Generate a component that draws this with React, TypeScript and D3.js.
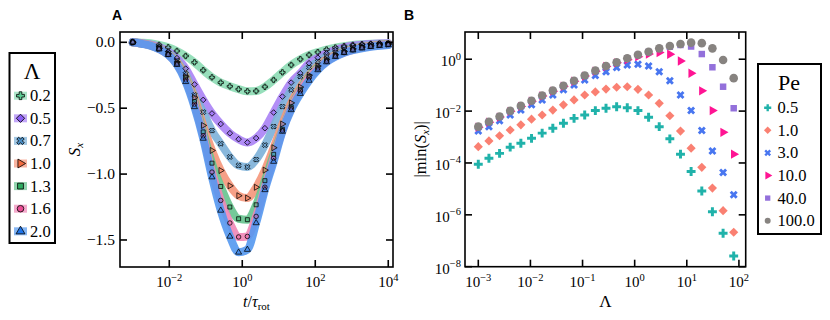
import * as d3 from 'd3';

// ---- panel A : S_x(t) for several Lambda ----
// log10(t / tau_rot) of the sampled points
const tLog = [-3, -2.76, -2.52, -2.28, -2.03, -1.79, -1.55, -1.31, -1.07, -0.83, -0.59, -0.34, -0.1, 0.14, 0.38,
  0.62, 0.86, 1.1, 1.34, 1.59, 1.83, 2.07, 2.31, 2.55, 2.79, 3.03, 3.28, 3.52, 3.76, 4];
// markers are not drawn on these sample indices (too crowded near zero)
const hiddenMarks = [1, 2];

const sx02 = [0, -0.003, -0.008, -0.02, -0.038, -0.066, -0.104, -0.152, -0.212, -0.266, -0.306, -0.334, -0.356, -0.372, -0.37,
  -0.338, -0.286, -0.228, -0.172, -0.128, -0.096, -0.075, -0.055, -0.04, -0.029, -0.02, -0.015, -0.012, -0.01, -0.009];
const sx05 = [0, -0.006, -0.016, -0.035, -0.07, -0.12, -0.2, -0.32, -0.437, -0.54, -0.62, -0.69, -0.735, -0.76, -0.727,
  -0.652, -0.533, -0.412, -0.306, -0.235, -0.159, -0.117, -0.083, -0.058, -0.038, -0.026, -0.018, -0.013, -0.01, -0.008];
const sx07 = [0, -0.008, -0.02, -0.042, -0.08, -0.14, -0.24, -0.4, -0.53, -0.67, -0.77, -0.87, -0.935, -0.947, -0.89,
  -0.78, -0.639, -0.488, -0.361, -0.26, -0.19, -0.147, -0.104, -0.079, -0.055, -0.04, -0.028, -0.02, -0.015, -0.011];
const sx10 = [0, -0.009, -0.022, -0.046, -0.088, -0.15, -0.26, -0.42, -0.631, -0.821, -0.973, -1.089, -1.164, -1.182, -1.1,
  -0.97, -0.8, -0.62, -0.46, -0.34, -0.25, -0.18, -0.13, -0.095, -0.07, -0.05, -0.036, -0.026, -0.019, -0.014];
const sx13 = [0, -0.01, -0.023, -0.048, -0.09, -0.16, -0.27, -0.45, -0.68, -0.917, -1.094, -1.25, -1.339, -1.346, -1.233,
  -1.05, -0.85, -0.66, -0.49, -0.36, -0.26, -0.19, -0.14, -0.1, -0.074, -0.054, -0.039, -0.029, -0.021, -0.015];
const sx16 = [0, -0.01, -0.024, -0.05, -0.093, -0.165, -0.285, -0.47, -0.71, -0.985, -1.2, -1.371, -1.477, -1.473, -1.321,
  -1.1, -0.88, -0.67, -0.5, -0.37, -0.27, -0.2, -0.145, -0.105, -0.078, -0.057, -0.041, -0.03, -0.022, -0.016];
const sx20 = [0, -0.011, -0.025, -0.052, -0.095, -0.17, -0.3, -0.49, -0.73, -1.023, -1.276, -1.473, -1.594, -1.573, -1.371,
  -1.12, -0.905, -0.677, -0.513, -0.39, -0.29, -0.21, -0.15, -0.11, -0.08, -0.06, -0.045, -0.034, -0.026, -0.02];

const lambdaLabels = ['0.2', '0.5', '0.7', '1.0', '1.3', '1.6', '2.0'];
const lambdaBands = ['#8cdcb4', '#aa82f5', '#7cb0d8', '#f5967a', '#66c38e', '#f086b6', '#5498f0'];
const lambdaColors = ['#5bcd94', '#8a5cf5', '#4a8fc8', '#f26b3f', '#2eab60', '#ea4c94', '#1e74ea'];
const lambdaShapes = ['plus', 'diamond', 'x', 'tri', 'square', 'circle', 'triUp'];
const seriesA = [sx02, sx05, sx07, sx10, sx13, sx16, sx20];

// ---- panel B : |min S_x| vs Lambda for several Pe ----
const lambdaB = [0.001, 0.0016, 0.00256, 0.00409, 0.00656, 0.0105, 0.0168, 0.0269, 0.043, 0.0687, 0.11, 0.176, 0.282,
  0.451, 0.721, 1.156, 1.85, 2.96, 4.73, 7.57, 12.1, 19.4, 31.0, 49.7, 79.4];
// log10 |min(S_x)|
const pe05 = [-4.05, -3.82, -3.63, -3.39, -3.24, -3.05, -2.85, -2.66, -2.47, -2.28, -2.15, -1.98, -1.89, -1.83, -1.87,
  -1.98, -2.24, -2.6, -3.07, -3.66, -4.33, -5.08, -5.88, -6.71, -7.59];
const pe1 = [-3.37, -3.15, -2.95, -2.73, -2.53, -2.31, -2.15, -1.96, -1.76, -1.57, -1.38, -1.26, -1.15, -1.08, -1.06,
  -1.16, -1.38, -1.7, -2.18, -2.77, -3.43, -4.17, -4.97, -5.84, -6.67];
const pe3 = [-2.77, -2.6, -2.37, -2.15, -1.96, -1.76, -1.57, -1.38, -1.18, -0.99, -0.8, -0.63, -0.48, -0.32, -0.22,
  -0.19, -0.26, -0.48, -0.83, -1.38, -1.98, -2.75, -3.54, -4.37, -5.23];
const pe10 = [-2.62, -2.43, -2.23, -2.01, -1.82, -1.62, -1.42, -1.23, -1.04, -0.85, -0.65, -0.46, -0.28, -0.14, -0.02,
  0.1, 0.2, 0.26, 0.19, -0.07, -0.54, -1.22, -1.98, -2.82, -3.66];
const pe40 = [-2.61, -2.42, -2.22, -2.0, -1.81, -1.61, -1.41, -1.22, -1.03, -0.84, -0.64, -0.45, -0.27, -0.13, 0.03,
  0.16, 0.28, 0.4, 0.48, 0.55, 0.49, 0.2, -0.31, -1.06, -1.89];
const pe100 = [-2.6, -2.41, -2.21, -1.99, -1.8, -1.6, -1.4, -1.21, -1.02, -0.83, -0.63, -0.44, -0.26, -0.12, 0.04,
  0.17, 0.29, 0.42, 0.51, 0.59, 0.64, 0.62, 0.42, -0.03, -0.73];

const peLabels = ['0.5', '1.0', '3.0', '10.0', '40.0', '100.0'];
const peColors = ['#20b2aa', '#fa8072', '#4876f0', '#ff1493', '#9370db', '#878380'];
const peShapes = ['plus', 'diamond', 'x', 'tri', 'square', 'circle'];
const seriesB = [pe05, pe1, pe3, pe10, pe40, pe100];

const xTicksA = [1e-2, 1, 1e2, 1e4];
const yTicksA = [0, -0.5, -1, -1.5];
const xTicksB = [1e-3, 1e-2, 1e-1, 1, 1e1, 1e2];
const yTicksB = [1, 1e-2, 1e-4, 1e-6, 1e-8];

const SERIF = "'Liberation Serif', 'DejaVu Serif', serif";

const symType: Record<string, d3.SymbolType> = {
  plus: d3.symbolCross, diamond: d3.symbolSquare, x: d3.symbolCross, tri: d3.symbolTriangle,
  square: d3.symbolSquare, circle: d3.symbolCircle, triUp: d3.symbolTriangle,
};
const symRot: Record<string, number> = { diamond: 45, x: 45, tri: 90 };

const Marker = ({ shape, x, y, size, fill, fo, stroke, sw }: any) => (
  <path
    d={d3.symbol(symType[shape], size)() || ''}
    transform={`translate(${x},${y}) rotate(${symRot[shape] || 0})`}
    fill={fill}
    fillOpacity={fo ?? 1}
    stroke={stroke || 'none'}
    strokeWidth={sw || 0}
  />
);

const Pow = ({ e }: { e: number }) => (
  <>
    10<tspan dy={-6.5} fontSize={10.5}>{e < 0 ? `\u2212${-e}` : e}</tspan>
  </>
);

const Frame = ({ l, r, t, b }: any) => (
  <rect x={l} y={t} width={r - l} height={b - t} fill="none" stroke="#000" strokeWidth={1.6} />
);

const TICK = 7;

const PanelA = () => {
  const l = 120, r = 393, t = 32, b = 267;
  const x = d3.scaleLog().domain([10 ** -3.35, 10 ** 4.13]).range([l, r]);
  const y = d3.scaleLinear().domain([-1.705, 0.078]).range([b, t]);
  const line = d3.line<number>()
    .x((_, i) => x(10 ** tLog[i]))
    .y((d) => y(d))
    .curve(d3.curveMonotoneX);

  return (
    <g>
      <defs>
        <clipPath id="clipA"><rect x={l} y={t} width={r - l} height={b - t} /></clipPath>
      </defs>
      <g clipPath="url(#clipA)">
        {seriesA.map((s, i) => (
          <path key={i} d={line(s) || ''} fill="none" stroke={lambdaBands[i]} strokeOpacity={0.9}
            strokeWidth={8} strokeLinecap="round" />
        ))}
        {seriesA.map((s, i) => (
          <g key={i}>
            {s.map((v, j) => hiddenMarks.includes(j) ? null : (
              <Marker key={j} shape={lambdaShapes[i]} x={x(10 ** tLog[j])} y={y(v)} size={16}
                fill={lambdaColors[i]} fo={0.4} stroke="#000" sw={0.75} />
            ))}
          </g>
        ))}
      </g>
      <Frame l={l} r={r} t={t} b={b} />
      {xTicksA.map((v) => (
        <g key={v} stroke="#000" strokeWidth={1.6}>
          <line x1={x(v)} x2={x(v)} y1={b} y2={b - TICK} />
          <line x1={x(v)} x2={x(v)} y1={t} y2={t + TICK} />
        </g>
      ))}
      {yTicksA.map((v) => (
        <g key={v} stroke="#000" strokeWidth={1.6}>
          <line x1={l} x2={l + TICK} y1={y(v)} y2={y(v)} />
          <line x1={r} x2={r - TICK} y1={y(v)} y2={y(v)} />
        </g>
      ))}
      <g fontFamily={SERIF} fontSize={15} fill="#000">
        {xTicksA.map((v) => (
          <text key={v} x={x(v)} y={287} textAnchor="middle"><Pow e={Math.round(Math.log10(v))} /></text>
        ))}
        {yTicksA.map((v) => (
          <text key={v} x={l - 5} y={y(v) + 5} textAnchor="end" fontSize={15.5}>
            {v === 0 ? '0.0' : `\u2212${(-v).toFixed(1)}`}
          </text>
        ))}
        <text x={(l + r) / 2} y={307} textAnchor="middle" fontSize={16}>
          <tspan fontStyle="italic">t</tspan>/<tspan fontStyle="italic">τ</tspan>
          <tspan fontSize={11} dy={3}>rot</tspan>
        </text>
        <text transform={`translate(80,${(t + b) / 2}) rotate(-90)`} textAnchor="middle" fontSize={17}>
          <tspan fontStyle="italic">S</tspan><tspan fontStyle="italic" fontSize={11} dy={3}>x</tspan>
        </text>
      </g>
      <text x={112} y={20} fontFamily="'Liberation Sans', Arial, sans-serif" fontWeight="bold" fontSize={14}>A</text>
    </g>
  );
};

const PanelB = () => {
  const l = 465, r = 745.7, t = 32, b = 266.7;
  const x = d3.scaleLog().domain([10 ** -3.255, 10 ** 2.13]).range([l, r]);
  const y = d3.scaleLog().domain([1e-8, 10 ** 1.05]).range([b, t]);
  const sizes = [44, 42, 40, 38, 42, 58];

  return (
    <g>
      {seriesB.map((s, i) => (
        <g key={i}>
          {s.map((v, j) => (
            <Marker key={j} shape={peShapes[i]} x={x(lambdaB[j])} y={y(10 ** v)} size={sizes[i]}
              fill={peColors[i]} />
          ))}
        </g>
      ))}
      <Frame l={l} r={r} t={t} b={b} />
      {xTicksB.map((v) => (
        <g key={v} stroke="#000" strokeWidth={1.6}>
          <line x1={x(v)} x2={x(v)} y1={b} y2={b - TICK} />
          <line x1={x(v)} x2={x(v)} y1={t} y2={t + TICK} />
        </g>
      ))}
      {yTicksB.map((v) => (
        <g key={v} stroke="#000" strokeWidth={1.6}>
          <line x1={l} x2={l + TICK} y1={y(v)} y2={y(v)} />
          <line x1={r} x2={r - TICK} y1={y(v)} y2={y(v)} />
        </g>
      ))}
      <g fontFamily={SERIF} fontSize={15} fill="#000">
        {xTicksB.map((v) => (
          <text key={v} x={x(v)} y={287} textAnchor="middle"><Pow e={Math.round(Math.log10(v))} /></text>
        ))}
        {yTicksB.map((v) => (
          <text key={v} x={l - 4} y={y(v) + 7} textAnchor="end"><Pow e={Math.round(Math.log10(v))} /></text>
        ))}
        <text x={(l + r) / 2} y={307} textAnchor="middle" fontSize={17}>Λ</text>
        <text transform={`translate(426,${(t + b) / 2}) rotate(-90)`} textAnchor="middle" fontSize={16.5}>
          |min(<tspan fontStyle="italic">S</tspan><tspan fontStyle="italic" fontSize={11} dy={3}>x</tspan>
          <tspan dy={-3}>)|</tspan>
        </text>
      </g>
      <text x={404} y={20} fontFamily="'Liberation Sans', Arial, sans-serif" fontWeight="bold" fontSize={14}>B</text>
    </g>
  );
};

const LegendA = () => {
  const y0 = 95.7, dy = 22.6;
  return (
    <g fontFamily={SERIF}>
      <rect x={9.5} y={53} width={45.5} height={190} fill="#fff" stroke="#000" strokeWidth={2} />
      <text x={32} y={79} textAnchor="middle" fontSize={23}>Λ</text>
      {lambdaLabels.map((lab, i) => (
        <g key={lab}>
          <line x1={14} x2={27} y1={y0 + i * dy} y2={y0 + i * dy} stroke={lambdaBands[i]}
            strokeOpacity={0.7} strokeWidth={8} />
          <Marker shape={lambdaShapes[i]} x={20.5} y={y0 + i * dy} size={34} fill={lambdaColors[i]}
            stroke="#000" sw={0.8} />
          <text x={30} y={y0 + i * dy + 5.5} fontSize={16.5}>{lab}</text>
        </g>
      ))}
    </g>
  );
};

const LegendB = () => {
  const y0 = 107.7, dy = 22.6;
  return (
    <g fontFamily={SERIF}>
      <rect x={758} y={64} width={63} height={170} fill="#fff" stroke="#000" strokeWidth={2} />
      <text x={789} y={90} textAnchor="middle" fontSize={22}>Pe</text>
      {peLabels.map((lab, i) => (
        <g key={lab}>
          <Marker shape={peShapes[i]} x={767.7} y={y0 + i * dy} size={28} fill={peColors[i]} />
          <text x={777.5} y={y0 + i * dy + 5.5} fontSize={16.5}>{lab}</text>
        </g>
      ))}
    </g>
  );
};

export default function App() {
  return (
    <svg width={830} height={320} viewBox="0 0 830 320"
      style={{ position: 'absolute', left: 0, top: 0, background: '#fff' }}>
      <PanelA />
      <PanelB />
      <LegendA />
      <LegendB />
    </svg>
  );
}
